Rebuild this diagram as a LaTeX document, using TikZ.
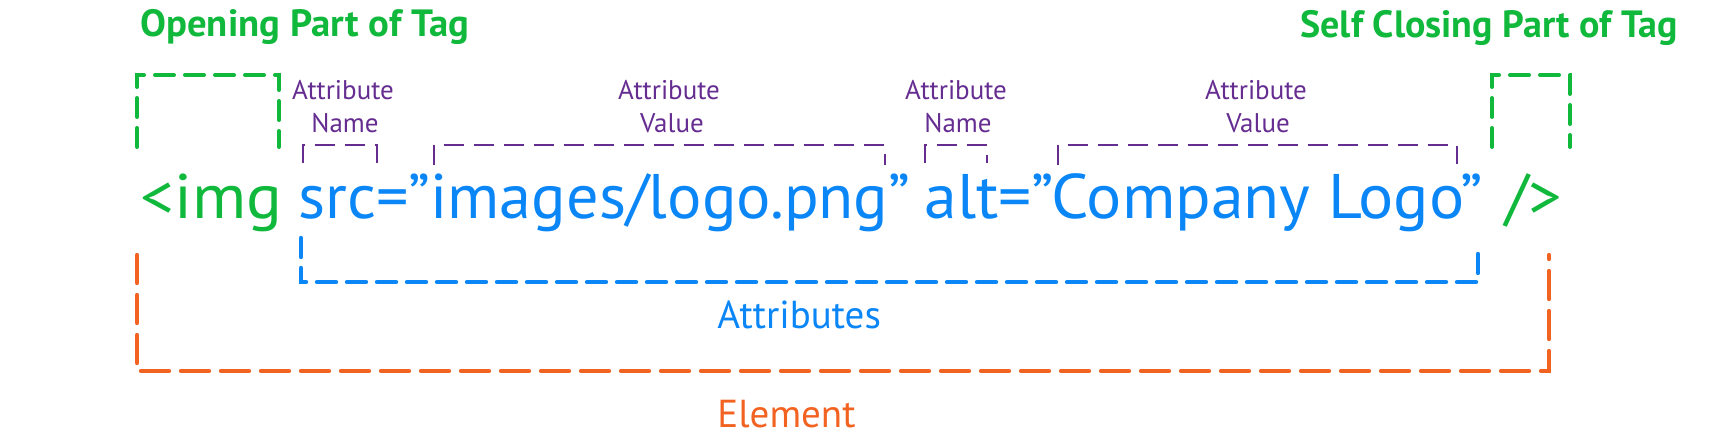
\documentclass[tikz,border=0pt]{standalone}
\usepackage{fontspec}
\usepackage{graphicx}
\setmainfont{PT Sans}
\definecolor{tgreen}{HTML}{10B83C}
\definecolor{tblue}{HTML}{0A86F7}
\definecolor{torange}{HTML}{F26322}
\definecolor{tpurple}{HTML}{662D91}
\newcommand{\widen}[2]{\scalebox{#1}[1]{#2}}
\tikzset{
  maintext/.style={inner sep=0pt, font=\fontsize{31.5}{36}\selectfont, anchor=base west},
  titletext/.style={inner sep=0pt, font=\bfseries\fontsize{19}{22}\selectfont, text=tgreen, anchor=base west},
  attrtext/.style={inner sep=0pt, font=\fontsize{13.5}{15}\selectfont, text=tpurple, anchor=base},
  bigtext/.style={inner sep=0pt, font=\fontsize{19.5}{22}\selectfont, anchor=base west},
  greenbox/.style={draw=tgreen, line width=2pt, line cap=round, dash pattern=on 9.5pt off 5.5pt},
  bluebox/.style={draw=tblue, line width=2.2pt, line cap=round, dash pattern=on 9.5pt off 5.5pt},
  orangebox/.style={draw=torange, line width=2.2pt, line cap=round, dash pattern=on 14pt off 6pt},
  purplebox/.style={draw=tpurple, line width=0.85pt, dash pattern=on 10pt off 5pt}
}
\begin{document}
\begin{tikzpicture}[x=0.5pt, y=-0.5pt]
\useasboundingbox (0,0) rectangle (1712,444);
% titles
\node[titletext] (openlbl) at (140,37) {\widen{1.02}{Opening Part of Tag}};
\node[titletext] (closelbl) at (1300,38) {Self Closing Part of Tag};
% green boxes
\draw[greenbox] (137,147) -- (137,75) -- (279,75) -- (279,147);
\draw[greenbox] (1492,147) -- (1492,75) -- (1570,75) -- (1570,147);
% attribute labels
\node[attrtext] (attr1) at (343,100) {Attribute};
\node[attrtext] (name1) at (345,133) {Name};
\node[attrtext] (attr2) at (669,100) {Attribute};
\node[attrtext] (value2) at (672,133) {Value};
\node[attrtext] (attr3) at (956,100) {Attribute};
\node[attrtext] (name3) at (958,133) {Name};
\node[attrtext] (attr4) at (1256,100) {Attribute};
\node[attrtext] (value4) at (1258,133) {Value};
% purple brackets
\draw[purplebox] (303,163) -- (303,145) -- (377,145) -- (377,163);
\draw[purplebox] (434,165) -- (434,145) -- (885,145) -- (885,165);
\draw[purplebox] (925,163) -- (925,145) -- (987,145) -- (987,163);
\draw[purplebox] (1058,165) -- (1058,145) -- (1457,145) -- (1457,164);
% main code line
\node[maintext, text=tgreen] (opentag) at (140,218) {\widen{1.06}{<img}};
\node[maintext, text=tblue] (srcattr) at (298,218) {\widen{1.02}{src=”images/logo.png”}};
\node[maintext, text=tblue] (altattr) at (924,218) {\widen{1.045}{alt=”Company Logo”}};
\node[maintext, text=tgreen] (closetag) at (1505,218) {\widen{1.05}{/>}};
% attributes bracket
\draw[bluebox] (301,238) -- (301,282) -- (1478,282) -- (1478,248);
\node[bigtext, text=tblue] (attrs) at (717,328) {Attributes};
% element bracket
\draw[orangebox] (137,255) -- (137,371) -- (1549,371) -- (1549,255);
\node[bigtext, text=torange] (elem) at (717,427) {Element};
\end{tikzpicture}
\end{document}
